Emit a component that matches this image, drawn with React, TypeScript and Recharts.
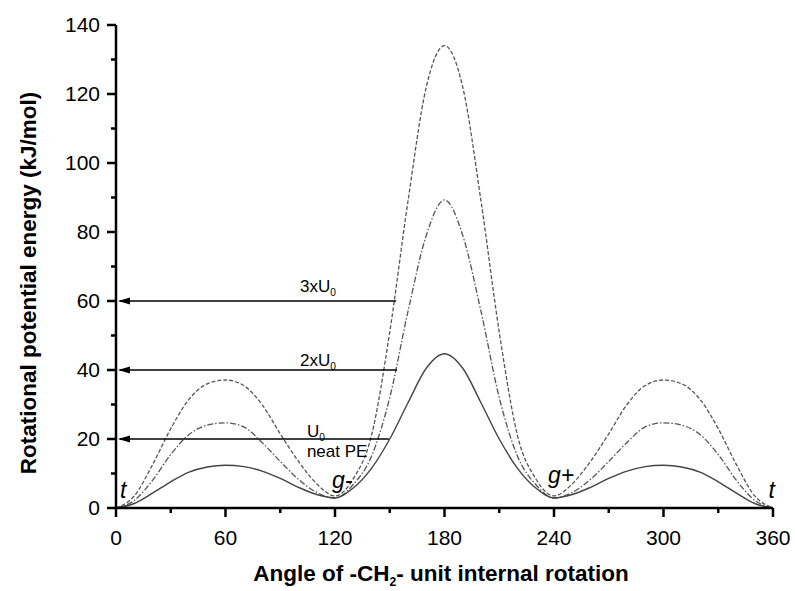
import React from "react";
import { LineChart, Line, XAxis, YAxis, ReferenceLine, ReferenceDot } from "recharts";

// torsion angle, degrees
const angles = [
  0, 10, 20, 30, 40, 50, 60, 70, 80, 90, 100, 110, 120, 130, 140, 150, 160, 170, 180,
  190, 200, 210, 220, 230, 240, 250, 260, 270, 280, 290, 300, 310, 320, 330, 340, 350, 360,
];

// U0, neat PE (solid)
const neatPE = [
  0, 1.3, 4.3, 7.6, 10.4, 11.9, 12.4, 12.0, 10.7, 8.6, 6.0, 3.9, 2.9, 5.8, 11.5, 20, 30.5, 40.5, 44.7,
  40.5, 30.5, 20, 11.5, 5.8, 2.9, 3.9, 6.0, 8.6, 10.7, 12.0, 12.4, 11.9, 10.4, 7.6, 4.3, 1.3, 0,
];

// 2xU0 (dash-dot)
const twoU0 = [
  0, 2.2, 8, 15.5, 21.3, 24, 24.7, 23.5, 19, 13.5, 8.3, 4.5, 2.9, 6.8, 15, 32, 57, 79, 89.3,
  79, 57, 32, 15, 6.8, 2.9, 4.5, 8.3, 13.5, 19, 23.5, 24.7, 24, 21.3, 15.5, 8, 2.2, 0,
];

// 3xU0 (dashed)
const threeU0 = [
  0, 3.5, 12.5, 23, 31.5, 36, 37.1, 35.5, 30, 21.5, 13.5, 7, 3.5, 8.5, 21, 51, 89, 122, 134,
  122, 89, 51, 21, 8.5, 3.5, 7, 13.5, 21.5, 30, 35.5, 37.1, 36, 31.5, 23, 12.5, 3.5, 0,
];

const xTicks = [0, 30, 60, 90, 120, 150, 180, 210, 240, 270, 300, 330, 360];
const yTicks = [0, 10, 20, 30, 40, 50, 60, 70, 80, 90, 100, 110, 120, 130, 140];

// arrows: level and where they end on the angle axis
const arrowLevels = [60, 40, 20];
const arrowEnds = [153.5, 154, 149.5];

const data = angles.map((a, i) => ({
  angle: a,
  neat: neatPE[i],
  two: twoU0[i],
  three: threeU0[i],
}));

const FONT = "'Liberation Sans', Arial, sans-serif";

const XTick = (props: any) => {
  const { x, y, payload } = props;
  const major = payload.value % 60 === 0;
  return (
    <g>
      <line x1={x} x2={x} y1={y} y2={y + (major ? 9 : 5)} stroke="#000" strokeWidth={2.5} />
      {major && (
        <text x={x} y={y + 37} textAnchor="middle" fontSize={21} fontFamily={FONT} fill="#000">
          {payload.value}
        </text>
      )}
    </g>
  );
};

const YTick = (props: any) => {
  const { x, y, payload } = props;
  const major = payload.value % 20 === 0;
  return (
    <g>
      <line x1={x} x2={x - (major ? 9 : 5)} y1={y} y2={y} stroke="#000" strokeWidth={2.5} />
      {major && (
        <text x={x - 16} y={y + 7} textAnchor="end" fontSize={21} fontFamily={FONT} fill="#000">
          {payload.value}
        </text>
      )}
    </g>
  );
};

const arrowHead = (p: any) => (
  <polygon
    points={`${p.cx + 2},${p.cy} ${p.cx + 14},${p.cy - 3.5} ${p.cx + 14},${p.cy + 3.5}`}
    fill="#000"
  />
);

const label = (main: string, sub?: string, size = 17, italic = false) => (p: any) => (
  <text
    x={p.cx}
    y={p.cy}
    fontSize={size}
    fontFamily={FONT}
    fontStyle={italic ? "italic" : "normal"}
    fill="#000"
  >
    {main}
    {sub && (
      <tspan fontSize={size * 0.6} dy={4}>
        {sub}
      </tspan>
    )}
  </text>
);

export default function App() {
  return (
    <div style={{ position: "absolute", left: 0, top: 0, width: 795, height: 591, background: "#fff" }}>
      <LineChart width={795} height={591} data={data} margin={{ top: 25, right: 22, left: 0, bottom: 0 }}>
        <XAxis
          dataKey="angle"
          type="number"
          domain={[0, 360]}
          ticks={xTicks}
          interval={0}
          height={83}
          tickSize={0}
          tickMargin={0}
          tick={<XTick />}
          axisLine={{ stroke: "#000", strokeWidth: 2.5 }}
        />
        <YAxis
          type="number"
          domain={[0, 140]}
          ticks={yTicks}
          interval={0}
          width={116}
          tickSize={0}
          tickMargin={0}
          tick={<YTick />}
          axisLine={{ stroke: "#000", strokeWidth: 2.5 }}
        />
        <Line
          type="monotone"
          dataKey="three"
          stroke="#555"
          strokeWidth={1.3}
          strokeDasharray="4 2"
          dot={false}
          isAnimationActive={false}
        />
        <Line
          type="monotone"
          dataKey="two"
          stroke="#555"
          strokeWidth={1.3}
          strokeDasharray="6 2 1.5 2"
          dot={false}
          isAnimationActive={false}
        />
        <Line
          type="monotone"
          dataKey="neat"
          stroke="#444"
          strokeWidth={1.4}
          dot={false}
          isAnimationActive={false}
        />
        {arrowLevels.map((lv, i) => (
          <ReferenceLine
            key={"l" + lv}
            segment={[
              { x: 2, y: lv },
              { x: arrowEnds[i], y: lv },
            ]}
            stroke="#000"
            strokeWidth={1.6}
            ifOverflow="visible"
          />
        ))}
        {arrowLevels.map((lv) => (
          <ReferenceDot key={"h" + lv} x={0} y={lv} r={0} ifOverflow="visible" shape={arrowHead} />
        ))}
        <ReferenceDot x={100.8} y={62.6} r={0} ifOverflow="visible" shape={label("3xU", "0")} />
        <ReferenceDot x={100.8} y={41.2} r={0} ifOverflow="visible" shape={label("2xU", "0")} />
        <ReferenceDot x={104.6} y={20.6} r={0} ifOverflow="visible" shape={label("U", "0")} />
        <ReferenceDot x={104.6} y={14.8} r={0} ifOverflow="visible" shape={label("neat PE")} />
        <ReferenceDot x={2.2} y={2.9} r={0} ifOverflow="visible" shape={label("t", undefined, 23, true)} />
        <ReferenceDot x={118.4} y={5.8} r={0} ifOverflow="visible" shape={label("g-", undefined, 23, true)} />
        <ReferenceDot x={236.7} y={7.2} r={0} ifOverflow="visible" shape={label("g+", undefined, 23, true)} />
        <ReferenceDot x={357.5} y={2.9} r={0} ifOverflow="visible" shape={label("t", undefined, 23, true)} />
      </LineChart>
      <svg
        width={795}
        height={591}
        style={{ position: "absolute", left: 0, top: 0, pointerEvents: "none" }}
      >
        <text x={441} y={581} textAnchor="middle" fontSize={22.5} fontWeight="bold" fontFamily={FONT}>
          Angle of -CH
          <tspan fontSize={12} dy={5}>2</tspan>
          <tspan dy={-5}>- unit internal rotation</tspan>
        </text>
        <text
          x={0}
          y={0}
          transform="translate(36,283) rotate(-90)"
          textAnchor="middle"
          fontSize={22.5}
          fontWeight="bold"
          fontFamily={FONT}
        >
          Rotational potential energy (kJ/mol)
        </text>
      </svg>
    </div>
  );
}
